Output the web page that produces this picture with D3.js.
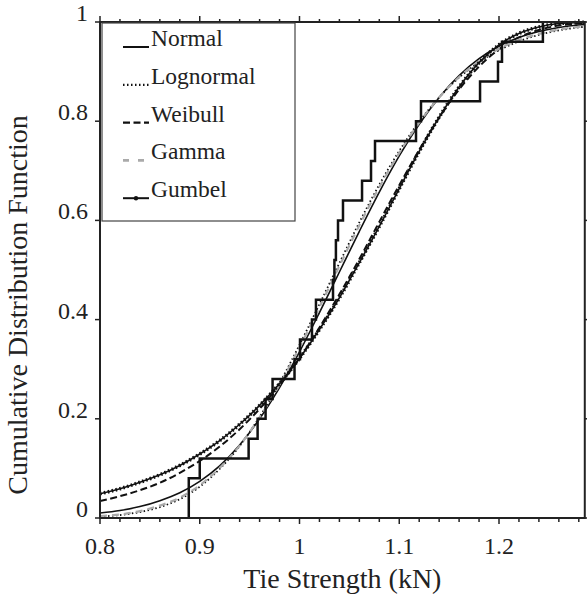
<!DOCTYPE html>
<html>
<head>
<meta charset="utf-8">
<script src="https://cdn.jsdelivr.net/npm/d3@7"></script>
<style>
  body { margin: 0; background: #fff; }
  text { font-family: "Liberation Serif", Tinos, "Times New Roman", "DejaVu Serif", "Noto Serif", serif; }
</style>
</head>
<body>
<div id="chart"></div>
<script>
const stepX = [0.889, 0.889, 0.900, 0.949, 0.958, 0.966, 0.973, 0.995, 1.0005, 1.0125, 1.0165,
  1.0336, 1.035, 1.0365, 1.0386, 1.0436, 1.0627, 1.0717, 1.0757, 1.1168, 1.1218, 1.181, 1.199, 1.203, 1.244];
const stepCDF = [0, 0.08, 0.12, 0.16, 0.20, 0.24, 0.28, 0.32, 0.36, 0.40, 0.44,
  0.48, 0.52, 0.56, 0.60, 0.64, 0.68, 0.72, 0.76, 0.80, 0.84, 0.88, 0.92, 0.96, 1.00];

// fitted curves, read at 0.02 kN steps
const gridX = [0.80, 0.82, 0.84, 0.86, 0.88, 0.90, 0.92, 0.94, 0.96, 0.98, 1.00, 1.02, 1.04,
  1.06, 1.08, 1.10, 1.12, 1.14, 1.16, 1.18, 1.20, 1.22, 1.24, 1.26, 1.28, 1.30];
const normalCDF = [0.010, 0.015, 0.023, 0.035, 0.051, 0.074, 0.105, 0.147, 0.200, 0.263, 0.335, 0.414, 0.496,
  0.578, 0.657, 0.730, 0.794, 0.848, 0.892, 0.926, 0.951, 0.969, 0.981, 0.989, 0.994, 0.996];
const lognormalCDF = [0.003, 0.006, 0.012, 0.022, 0.038, 0.063, 0.099, 0.145, 0.204, 0.272, 0.349, 0.431, 0.514,
  0.596, 0.672, 0.740, 0.799, 0.848, 0.888, 0.919, 0.943, 0.961, 0.974, 0.983, 0.989, 0.993];
const weibullCDF = [0.034, 0.044, 0.056, 0.071, 0.091, 0.115, 0.144, 0.179, 0.220, 0.268, 0.322, 0.384, 0.451,
  0.522, 0.597, 0.671, 0.742, 0.807, 0.864, 0.910, 0.945, 0.969, 0.984, 0.993, 0.997, 0.999];
const gammaCDF = [0.004, 0.007, 0.014, 0.025, 0.041, 0.066, 0.101, 0.146, 0.203, 0.269, 0.344, 0.425, 0.508,
  0.590, 0.667, 0.736, 0.797, 0.848, 0.889, 0.921, 0.946, 0.964, 0.976, 0.985, 0.990, 0.994];
const gumbelCDF = [0.049, 0.059, 0.072, 0.087, 0.106, 0.129, 0.156, 0.189, 0.227, 0.271, 0.322, 0.380, 0.444,
  0.515, 0.588, 0.664, 0.739, 0.808, 0.869, 0.918, 0.954, 0.977, 0.990, 0.997, 0.999, 1.000];

const xTicks = [0.8, 0.9, 1.0, 1.1, 1.2];
const xMinorTicks = d3.range(0, 25).map(i => +(0.8 + i * 0.02).toFixed(2));
const yTicks = [0, 0.2, 0.4, 0.6, 0.8, 1];
const legendNames = ["Normal", "Lognormal", "Weibull", "Gamma", "Gumbel"];

let width = 587;
let height = 599;
let fontFam = "Liberation Serif, Tinos, Times New Roman, DejaVu Serif, Noto Serif, serif";

let svg = d3.select("#chart").append("svg")
    .attr("width", width)
    .attr("height", height)
    .attr("font-family", fontFam);

// x axis runs a bit short of 1.3, the figure is cut at the right
const x = d3.scaleLinear().domain([0.8, 1.2]).range([100, 499]);
const xMax = 1.286;
const y = d3.scaleLinear().domain([0, 1]).range([518, 22]);

///Curves
const styles = {
    Normal:    {color: "#111", width: 1.6, dash: null},
    Lognormal: {color: "#111", width: 1.8, dash: "1.5,2.5"},
    Weibull:   {color: "#111", width: 2, dash: "7,3.5"},
    Gamma:     {color: "#aaa", width: 2.2, dash: "7,5"},
    Gumbel:    {color: "#111", width: 1.6, dash: null}
};
const series = [
    {name: "Normal", values: normalCDF},
    {name: "Lognormal", values: lognormalCDF},
    {name: "Weibull", values: weibullCDF},
    {name: "Gamma", values: gammaCDF},
    {name: "Gumbel", values: gumbelCDF}
];

const line = d3.line()
    .x(d => x(d[0]))
    .y(d => y(d[1]))
    .curve(d3.curveMonotoneX);

svg.append("clipPath").attr("id", "clip")
    .append("rect")
    .attr("x", x(0.8)).attr("y", 0)
    .attr("width", x(xMax) - x(0.8)).attr("height", height);

let plot = svg.append("g").attr("clip-path", "url(#clip)");

series.forEach(function(s) {
    let pts = gridX.map((v, i) => [v, s.values[i]]);
    let st = styles[s.name];
    plot.append("path")
        .attr("d", line(pts))
        .attr("fill", "none")
        .attr("stroke", st.color)
        .attr("stroke-width", st.width)
        .attr("stroke-dasharray", st.dash);
    if (s.name == "Gumbel") {
        // beaded look
        plot.append("path")
            .attr("d", line(pts))
            .attr("fill", "none")
            .attr("stroke", "#111")
            .attr("stroke-width", 3.6)
            .attr("stroke-dasharray", "1.6,2.4");
    }
});

///ECDF
const stepLine = d3.line()
    .x((d, i) => x(d))
    .y((d, i) => y(stepCDF[i]))
    .curve(d3.curveStepAfter);

plot.append("path")
    .attr("d", stepLine(stepX))
    .attr("fill", "none")
    .attr("stroke", "#111")
    .attr("stroke-width", 2.5);

///Axes
let x0 = x(0.8), x1 = x(xMax);
let y0 = y.range()[0], y1 = y.range()[1];
let isMajor = d => xTicks.some(t => Math.abs(t - d) < 1e-6);

let axes = svg.append("g").attr("stroke", "#222");

axes.selectAll(".xt").data(xMinorTicks).enter().append("line")
    .attr("x1", d => x(d)).attr("x2", d => x(d))
    .attr("y1", y0).attr("y2", d => y0 + (isMajor(d) ? 6 : 4))
    .attr("stroke-width", 1.5);
axes.selectAll(".xtt").data(xMinorTicks).enter().append("line")
    .attr("x1", d => x(d)).attr("x2", d => x(d))
    .attr("y1", y1).attr("y2", d => y1 - (isMajor(d) ? 6 : 3))
    .attr("stroke-width", 1.5);
axes.selectAll(".yt").data(yTicks).enter().append("line")
    .attr("x1", x0 - 5).attr("x2", x0)
    .attr("y1", d => y(d)).attr("y2", d => y(d))
    .attr("stroke-width", 1.5);
axes.selectAll(".ytr").data(yTicks).enter().append("line")
    .attr("x1", x1).attr("x2", x1 + 3)
    .attr("y1", d => y(d)).attr("y2", d => y(d))
    .attr("stroke-width", 1.5);

axes.append("rect")
    .attr("x", x0).attr("y", y1)
    .attr("width", x1 - x0).attr("height", y0 - y1)
    .attr("fill", "none")
    .attr("stroke-width", 2);

svg.selectAll(".xl").data(xTicks).enter().append("text")
    .attr("x", d => x(d))
    .attr("y", y0 + 36)
    .attr("text-anchor", "middle")
    .attr("fill", "#222")
    .attr("font-family", fontFam)
    .style("font-size", "24px")
    .text(d => d);

svg.selectAll(".yl").data(yTicks).enter().append("text")
    .attr("x", x0 - 12)
    .attr("y", d => y(d) - 1)
    .attr("text-anchor", "end")
    .attr("fill", "#222")
    .attr("font-family", fontFam)
    .style("font-size", "24px")
    .text(d => d);

svg.append("text")
    .attr("x", (x0 + x1) / 2)
    .attr("y", 588)
    .attr("text-anchor", "middle")
    .attr("fill", "#222")
    .attr("font-family", fontFam)
    .style("font-size", "28px")
    .text("Tie Strength (kN)");

svg.append("text")
    .attr("transform", "translate(27,305) rotate(-90)")
    .attr("text-anchor", "middle")
    .attr("fill", "#222")
    .attr("font-family", fontFam)
    .style("font-size", "28px")
    .text("Cumulative Distribution Function");

///Legend
let legend = svg.append("g");
legend.append("rect")
    .attr("x", 102).attr("y", 23)
    .attr("width", 193).attr("height", 198)
    .attr("fill", "#fff")
    .attr("stroke", "#444")
    .attr("stroke-width", 1.2);

legendNames.forEach(function(name, i) {
    let ly = 47 + i * 37.8;
    let st = styles[name];
    legend.append("line")
        .attr("x1", 123).attr("x2", 149)
        .attr("y1", ly).attr("y2", ly)
        .attr("stroke", st.color)
        .attr("stroke-width", st.width + 0.4)
        .attr("stroke-dasharray", name == "Gamma" ? "6,9" : (name == "Lognormal" ? "1.5,2.5" : st.dash));
    if (name == "Gumbel") {
        legend.append("circle").attr("cx", 136).attr("cy", ly).attr("r", 2.2).attr("fill", "#111");
    }
    legend.append("text")
        .attr("x", 151)
        .attr("y", ly - 1)
        .attr("fill", "#222")
        .attr("font-family", fontFam)
        .style("font-size", "23.5px")
        .text(name);
});
</script>
</body>
</html>
